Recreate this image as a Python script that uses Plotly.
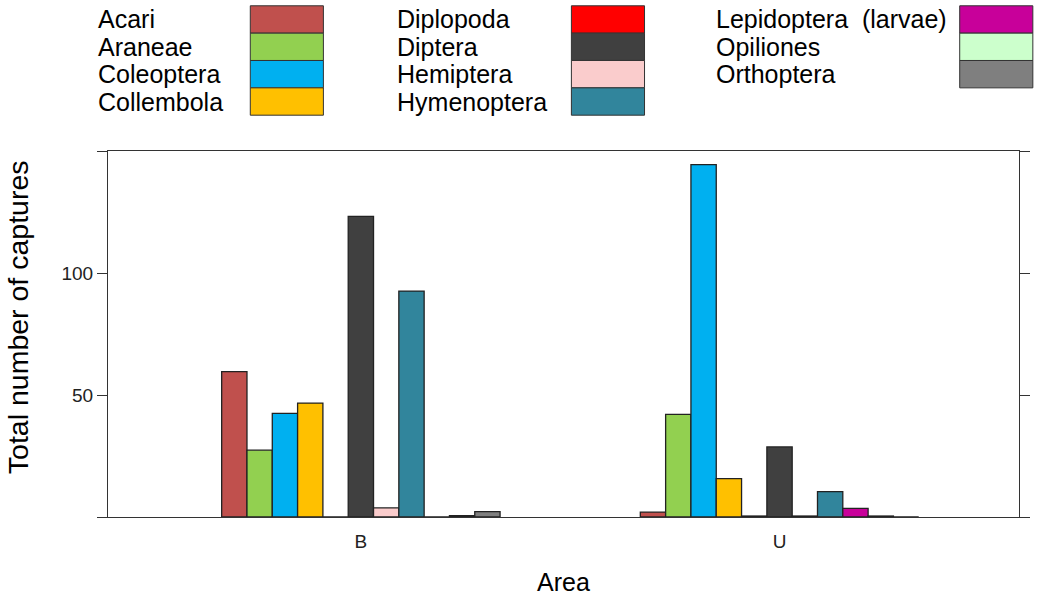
import plotly.graph_objects as go

# Capture totals per taxon and area
areas = ["B", "U"]
taxa = ["Acari", "Araneae", "Coleoptera", "Collembola", "Diplopoda", "Diptera",
        "Hemiptera", "Hymenoptera", "Lepidoptera  (larvae)", "Opiliones", "Orthoptera"]
values_B = [59.6, 27.4, 42.5, 46.7, 0, 123.2, 3.7, 92.6, 0, 0.6, 2.2]
values_U = [2.0, 42.1, 144.4, 15.7, 0.4, 28.7, 0.4, 10.4, 3.5, 0.4, 0]
colors = ["#C0504D", "#92D050", "#00B0F0", "#FFC000", "#FF0000", "#404040",
          "#FACCCC", "#31859C", "#C8009A", "#CCFFCC", "#7F7F7F"]

W, H = 1041, 602
L, R, T, B = 108, 11, 151, 83
FONT = "Liberation Sans, Arial, sans-serif"


def px_x(px):
    return (px - L) / (W - L - R)


def px_y(py):
    return (H - B - py) / (H - T - B)


fig = go.Figure()
for name, vb, vu, col in zip(taxa, values_B, values_U, colors):
    fig.add_trace(go.Bar(
        x=areas, y=[vb, vu], name=name,
        marker=dict(color=col, line=dict(color="#222222", width=1.3)),
        showlegend=False,
    ))

# Key: three columns of labels with colour swatches to their right
shapes, annotations = [], []
row_h = 27.5
top0 = 5
columns = [(96, 252), (398, 577), (721, 970)]
for i, (name, col) in enumerate(zip(taxa, colors)):
    c, r = divmod(i, 4)
    tx, rx = columns[c]
    y0 = top0 + r * row_h
    shapes.append(dict(
        type="rect", xref="paper", yref="paper",
        x0=px_x(rx), x1=px_x(rx + 74), y0=px_y(y0), y1=px_y(y0 + row_h),
        fillcolor=col, line=dict(color="#333333", width=1),
    ))
    annotations.append(dict(
        text=name, xref="paper", yref="paper", x=px_x(tx), y=px_y(y0 + row_h / 2),
        xanchor="left", yanchor="middle", showarrow=False,
        font=dict(family=FONT, size=25, color="#000000"),
    ))

annotations.append(dict(
    text="Total number of captures", xref="paper", yref="paper",
    x=px_x(17), y=px_y(318), textangle=-90, xanchor="center", yanchor="middle",
    showarrow=False, font=dict(family=FONT, size=28.5, color="#000000"),
))

fig.update_layout(
    width=W, height=H,
    margin=dict(l=L, r=R, t=T, b=B),
    paper_bgcolor="white", plot_bgcolor="white",
    barmode="group", bargap=0.335, bargroupgap=0,
    shapes=shapes, annotations=annotations,
    font=dict(family=FONT, color="#000000"),
)
fig.update_xaxes(
    type="category", range=[-0.604, 1.572],
    showline=True, mirror=True, linecolor="#333333", linewidth=1.2,
    ticks="outside", ticklen=7, tickcolor="rgba(0,0,0,0)",
    tickfont=dict(family=FONT, size=19, color="#222222"),
    showgrid=False, zeroline=False,
    title=dict(text="Area", font=dict(family=FONT, size=25, color="#000000"), standoff=22),
)
fig.update_yaxes(
    range=[0, 150], tickvals=[0, 50, 100, 150], ticktext=["", "50", "100", ""],
    showline=True, mirror="ticks", linecolor="#333333", linewidth=1.2,
    ticks="outside", ticklen=10, tickcolor="#333333", tickwidth=1.2,
    tickfont=dict(family=FONT, size=19, color="#222222"),
    showgrid=False, zeroline=False,
)

fig.write_html("out.html")
